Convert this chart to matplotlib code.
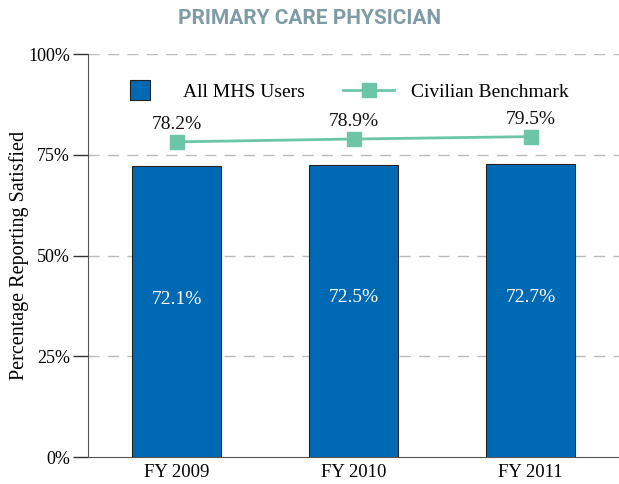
import matplotlib.pyplot as plt
from matplotlib.lines import Line2D
import numpy as np

years = ['FY 2009', 'FY 2010', 'FY 2011']
mhs_users = [72.1, 72.5, 72.7]
civilian = [78.2, 78.9, 79.5]
yticks = [0, 25, 50, 75, 100]

bar_color = '#0069b4'
line_color = '#6cc6a6'
serif = ['Liberation Serif', 'DejaVu Serif']

fig = plt.figure(figsize=(6.19, 4.84), dpi=100)
ax = fig.add_axes([88 / 619, 1 - 457 / 484, 1 - 88 / 619, (457 - 54) / 484])

x = np.arange(len(years))
ax.bar(x, mhs_users, width=0.5, color=bar_color, edgecolor='#222222',
       linewidth=0.8, zorder=3)
line, = ax.plot(x, civilian, color=line_color, marker='s', markersize=9.5,
                linewidth=2, zorder=4)

for i, v in enumerate(mhs_users):
    ax.text(x[i], v - 33, f'{v}%', ha='center', va='center', color='white',
            fontsize=14, family=serif)
for i, v in enumerate(civilian):
    ax.text(x[i], v + 4.3, f'{v}%', ha='center', va='center', color='#111111',
            fontsize=14, family=serif)

ax.set_xlim(-0.5, 2.5)
ax.set_ylim(0, 100)
ax.set_xticks(x)
ax.set_xticklabels(years, family=serif, fontsize=13.5)
ax.set_yticks(yticks)
ax.set_yticklabels([f'{t}%' for t in yticks], family=serif, fontsize=13)
ax.tick_params(axis='y', length=11, width=1, color='#333333', pad=2)
ax.tick_params(axis='x', length=0, pad=5)
ax.set_ylabel('Percentage Reporting Satisfied', family=serif, fontsize=14.5)
ax.yaxis.set_label_coords(-0.112, 0.5)

for t in [25, 50, 75, 100]:
    ax.axhline(t, color='#bbbbbb', linewidth=1, dashes=(8, 6), zorder=1)

for s in ['top', 'right']:
    ax.spines[s].set_visible(False)
ax.spines['left'].set_color('#555555')
ax.spines['bottom'].set_color('#555555')

# square swatch for the bars, like a filled box rather than a wide patch
bar_handle = Line2D([], [], linestyle='none', marker='s', markersize=14,
                    markerfacecolor=bar_color, markeredgecolor='#222222',
                    markeredgewidth=0.8)
ax.legend([bar_handle, line], ['All MHS Users', 'Civilian Benchmark'],
          loc='center left', bbox_to_anchor=(0.017, 0.905), ncol=2,
          frameon=False, prop={'family': serif, 'size': 14},
          handlelength=2.6, columnspacing=2.0, handletextpad=0.9)

fig.text(0.5, 0.962, 'PRIMARY CARE PHYSICIAN', ha='center', va='center',
         color='#7f9ca6', fontsize=15, fontweight='bold',
         family=['Liberation Sans Narrow', 'Roboto', 'DejaVu Sans'])

fig.savefig('out.png', dpi=100)
